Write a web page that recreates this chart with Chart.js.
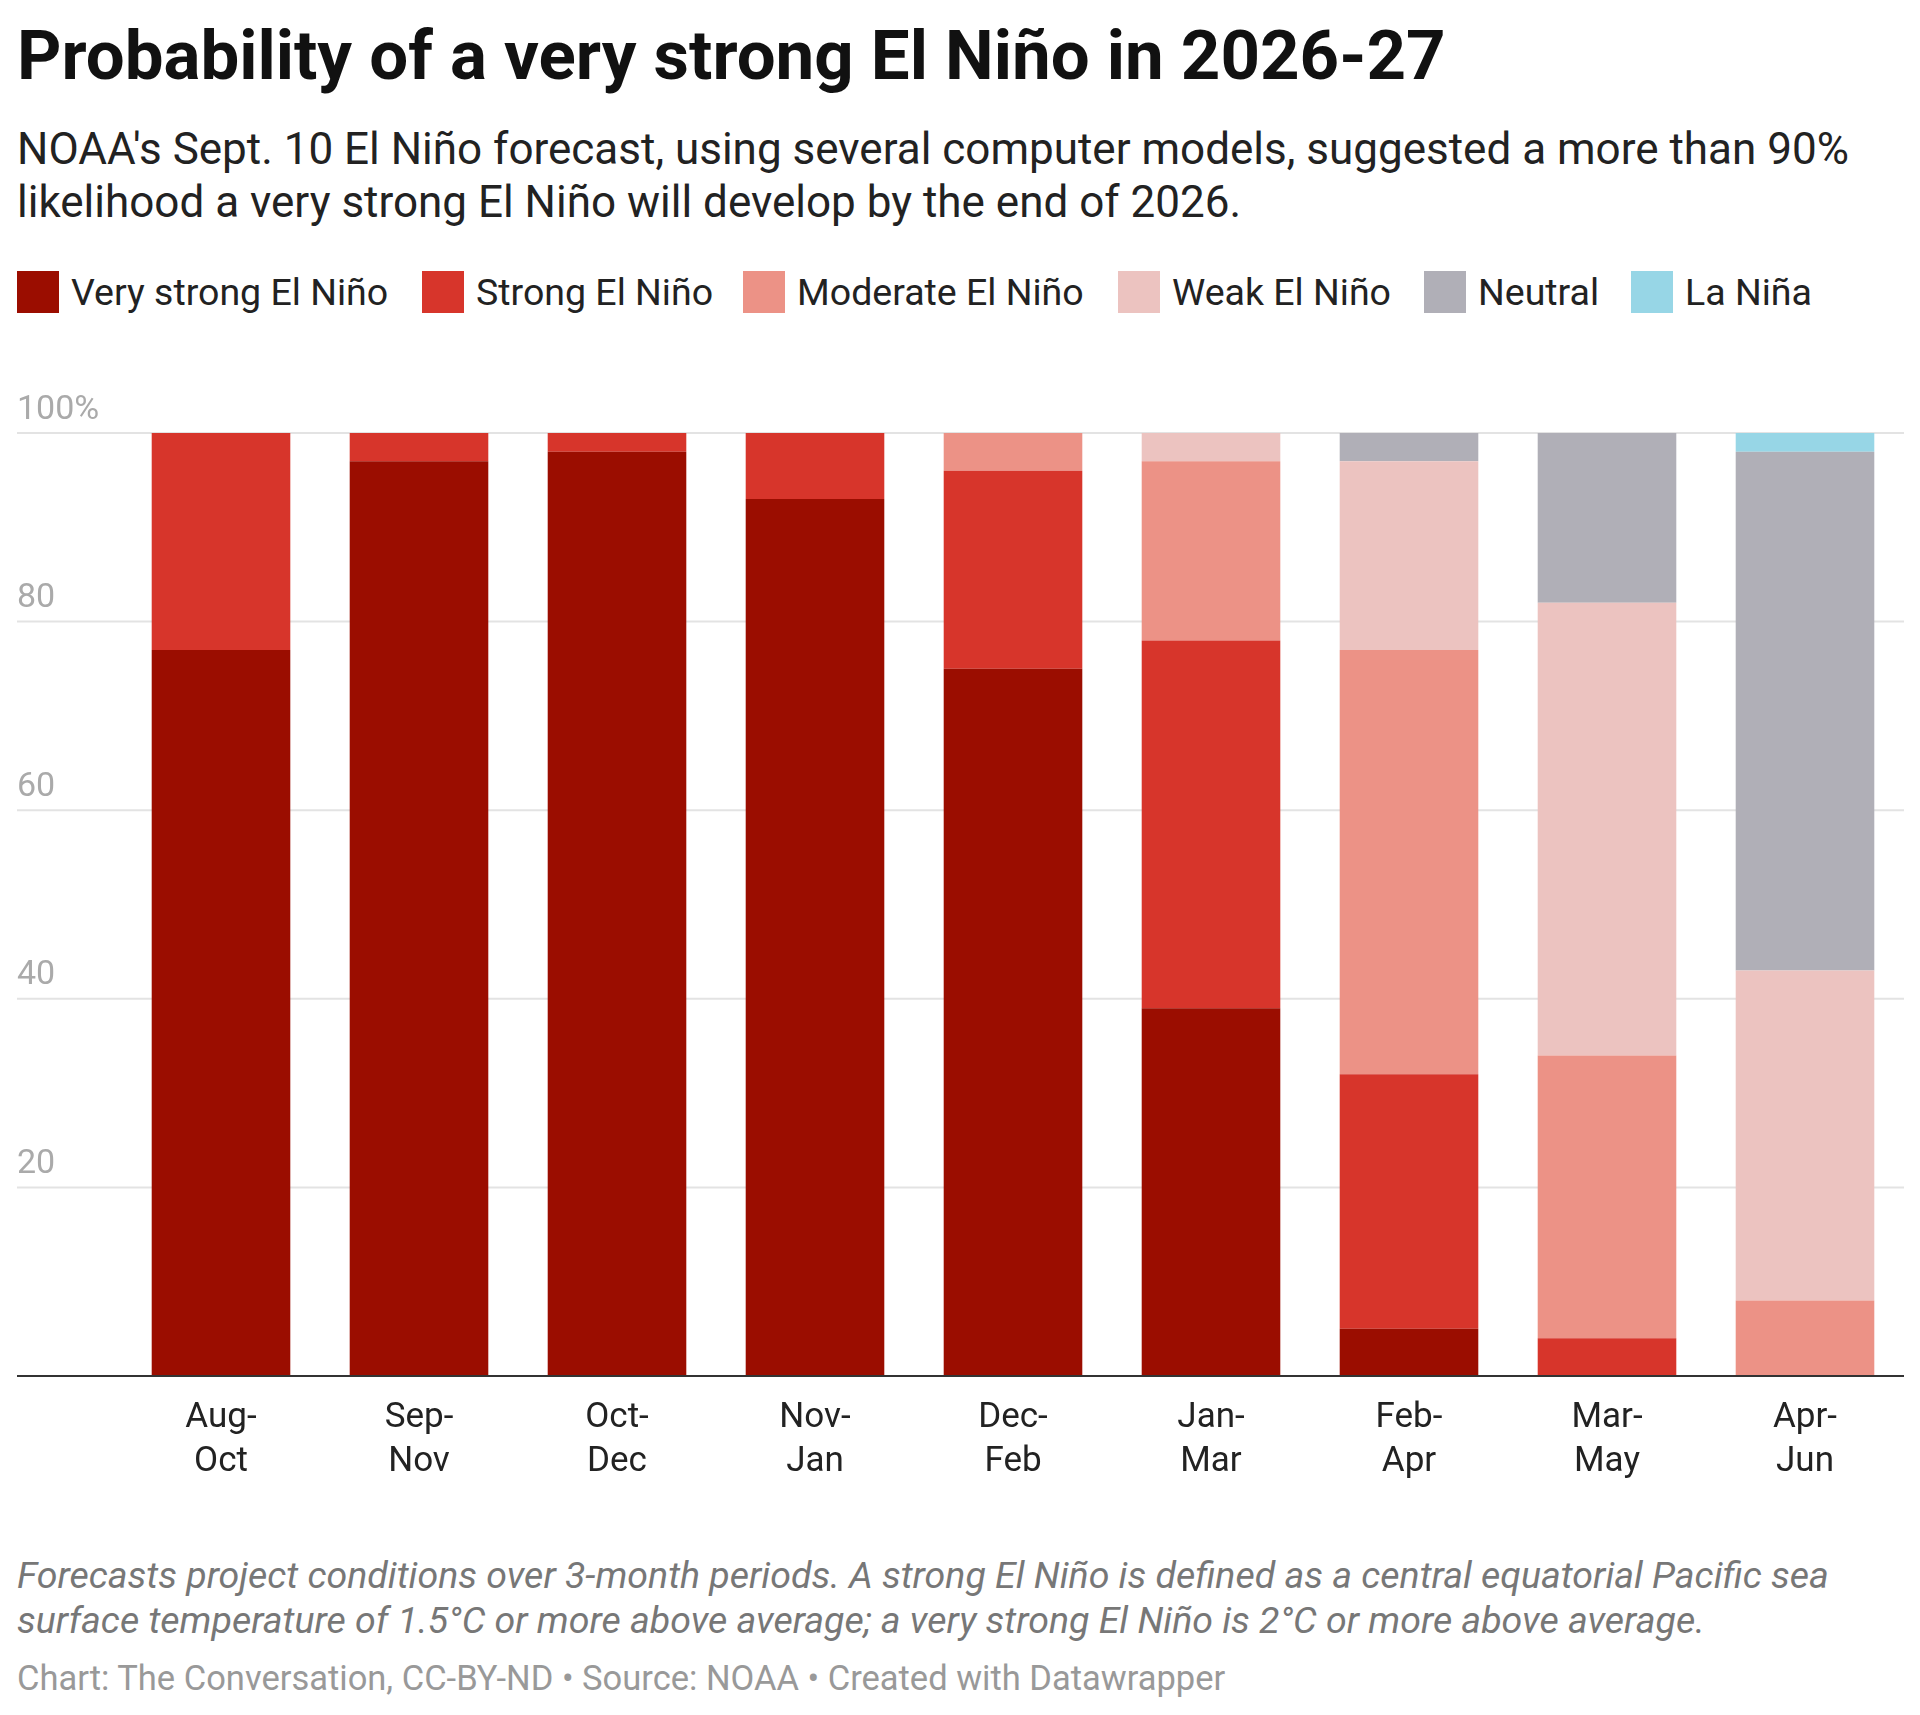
<!DOCTYPE html>
<html><head><meta charset="utf-8">
<script src="https://cdn.jsdelivr.net/npm/chart.js@4"></script>
<style>
body{margin:0;width:1920px;height:1715px;background:#fff;font-family:Roboto,sans-serif;position:relative;overflow:hidden}
.t{position:absolute;left:17px;white-space:nowrap}
#title{top:15px;font-size:69px;font-weight:700;color:#111}
#sub{top:123px;font-size:44px;line-height:53px;color:#222;white-space:normal;width:1890px}
#legend{position:absolute;top:270px;left:17px;height:44px}
.li{position:absolute;top:0;display:flex;align-items:center;font-size:37.5px;color:#222;white-space:nowrap}
.sw{width:42px;height:42px;margin-right:12px}
#note{top:1553px;font-size:37.5px;line-height:45px;color:#777;font-style:italic;white-space:normal;width:1880px}
#credit{top:1658px;font-size:34.5px;color:#999}
#wrap{position:absolute;left:17px;top:381px;width:1887px;height:1140px}
</style></head><body>
<div class="t" id="title">Probability of a very strong El Niño in 2026-27</div>
<div class="t" id="sub">NOAA's Sept. 10 El Niño forecast, using several computer models, suggested a more than 90% likelihood a very strong El Niño will develop by the end of 2026.</div>
<div id="legend"></div>
<div id="wrap"><canvas id="c"></canvas></div>
<div class="t" id="note">Forecasts project conditions over 3-month periods. A strong El Niño is defined as a central equatorial Pacific sea surface temperature of 1.5°C or more above average; a very strong El Niño is 2°C or more above average.</div>
<div class="t" id="credit">Chart: The Conversation, CC-BY-ND • Source: NOAA • Created with Datawrapper</div>
<script>
const categories=[["Aug-","Oct"],["Sep-","Nov"],["Oct-","Dec"],["Nov-","Jan"],["Dec-","Feb"],["Jan-","Mar"],["Feb-","Apr"],["Mar-","May"],["Apr-","Jun"]];
const seriesNames=["Very strong El Niño","Strong El Niño","Moderate El Niño","Weak El Niño","Neutral","La Niña"];
const veryStrong=[77,97,98,93,75,39,5,0,0];
const strong=[23,3,2,7,21,39,27,4,0];
const moderate=[0,0,0,0,4,19,45,30,8];
const weak=[0,0,0,0,0,3,20,48,35];
const neutral=[0,0,0,0,0,0,3,18,55];
const laNina=[0,0,0,0,0,0,0,0,2];
const yTicks=[0,20,40,60,80,100];
const colors=["#9b0d00","#d7352b","#ec9286","#ecc3c0","#b0afb7","#97d6e6"];
const legendX=[0,405,726,1101,1407,1614];
const lg=document.getElementById('legend');
seriesNames.forEach((n,i)=>{const d=document.createElement('div');d.className='li';d.style.left=legendX[i]+'px';d.innerHTML='<div class="sw" style="background:'+colors[i]+'"></div>'+n;lg.appendChild(d);});
const data=[veryStrong,strong,moderate,weak,neutral,laNina];
const deco={id:'deco',beforeDatasetsDraw(ch){const c=ch.ctx,y=ch.scales.y,a=ch.chartArea;c.save();
 yTicks.forEach(v=>{const p=y.getPixelForValue(v);if(v>0){c.strokeStyle='#e3e3e3';c.lineWidth=2;c.beginPath();c.moveTo(0,p);c.lineTo(ch.width,p);c.stroke();
 c.fillStyle='#aaa';c.font='34px Roboto';c.textBaseline='bottom';c.textAlign='left';c.fillText(v===100?'100%':String(v),0,p-6);}});c.restore();},
 afterDatasetsDraw(ch){const c=ch.ctx,y=ch.scales.y,x=ch.scales.x;c.save();const p=y.getPixelForValue(0);c.strokeStyle='#333';c.lineWidth=2;c.beginPath();c.moveTo(0,p);c.lineTo(ch.width,p);c.stroke();
 c.fillStyle='#222';c.font='35px Roboto';c.textAlign='center';c.textBaseline='middle';categories.forEach((l,i)=>{const px=x.getPixelForValue(i);c.fillText(l[0],px,p+42);c.fillText(l[1],px,p+86);});c.restore();}};
new Chart(document.getElementById('c'),{type:'bar',data:{labels:categories.map(l=>l.join('')),datasets:data.map((d,i)=>({label:seriesNames[i],data:d,backgroundColor:colors[i],categoryPercentage:0.7,barPercentage:1,borderWidth:0}))},
options:{responsive:true,maintainAspectRatio:false,animation:false,layout:{padding:{left:105,top:52,bottom:145,right:0}},
plugins:{legend:{display:false},tooltip:{enabled:false}},
scales:{x:{stacked:true,display:false},y:{stacked:true,display:false,min:0,max:100}}},plugins:[deco]});
</script></body></html>
